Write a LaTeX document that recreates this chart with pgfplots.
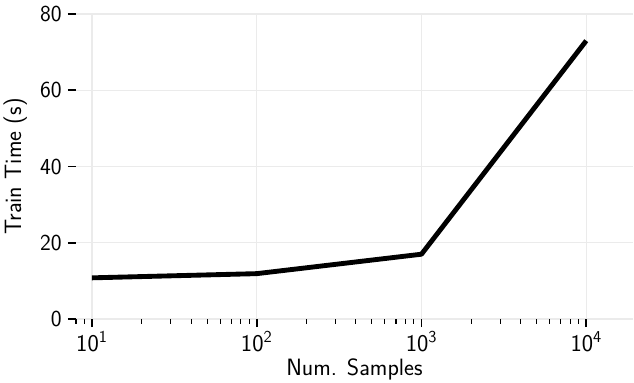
\documentclass[border=0pt]{standalone}
\usepackage{pgfplots}
\pgfplotsset{compat=1.18}
\begin{document}
\begin{tikzpicture}
\path[use as bounding box] (-54.7pt,-45.4pt) rectangle (401.8pt,229.7pt);
\begin{axis}[
  at={(0,0)}, anchor=south west,
  scale only axis, width=401pt, height=219.6pt,
  xmode=log, xmin=8, xmax=19200,
  ymin=0, ymax=80,
  xtick={10,100,1000,10000},
  xticklabels={$\mathsf{10^{1}}$,$\mathsf{10^{2}}$,$\mathsf{10^{3}}$,$\mathsf{10^{4}}$},
  minor xtick={8,9,20,30,40,50,60,70,80,90,200,300,400,500,600,700,800,900,2000,3000,4000,5000,6000,7000,8000,9000},
  ytick={0,20,40,60,80},
  yticklabels={0,20,40,60,80},
  xtick pos=bottom, ytick pos=left,
  tick align=outside,
  major tick length=5.8pt, minor tick length=3.5pt,
  every major tick/.append style={line width=1.2pt, black},
  every minor tick/.append style={line width=0.8pt, black},
  axis line style={draw=none},
  grid=major,
  major grid style={draw={rgb,255:red,235;green,235;blue,235}, line width=0.9pt},
  tick label style={font=\sffamily\fontsize{16.5}{19}\selectfont},
  yticklabel style={xshift=-1pt},
  label style={font=\sffamily\fontsize{17}{20}\selectfont},
  xlabel={Num. Samples},
  ylabel={Train Time (s)},
  xlabel style={at={(axis description cs:0.5,-0.165)}, anchor=center},
  ylabel style={at={(axis description cs:-0.109,0.5)}, anchor=center},
]
\addplot[black, line width=3.5pt, line join=round] coordinates {
  (10,10.8) (100,11.9) (1000,17.0) (10000,73.0)
};
\end{axis}
\end{tikzpicture}
\end{document}
